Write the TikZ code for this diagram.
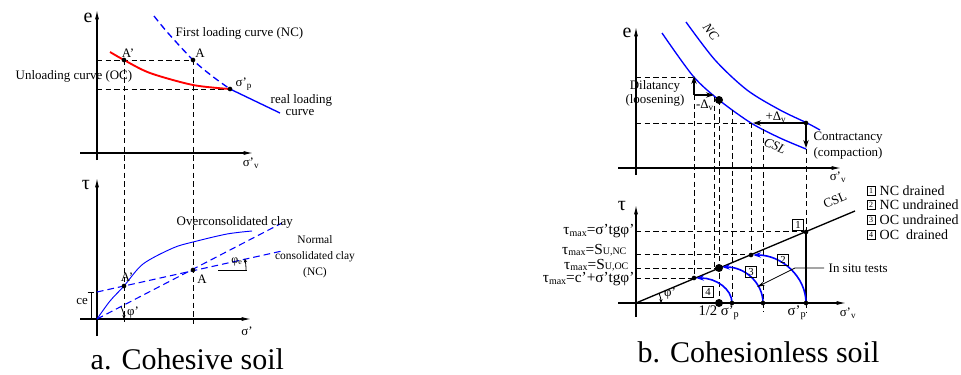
\documentclass[tikz,border=0pt]{standalone}
\usepackage{fontspec}
\setmainfont{Liberation Serif}
\usetikzlibrary{arrows.meta}
\newcommand{\lbl}{\fontsize{9.7}{11.5}\selectfont}
\newcommand{\lblsm}{\fontsize{8.6}{10.8}\selectfont}
\newcommand{\lgd}{\fontsize{10.5}{12}\selectfont}
\newcommand{\axl}{\fontsize{15}{16}\selectfont}
\newcommand{\tml}{\fontsize{11.5}{13}\selectfont}
\newcommand{\capl}{\fontsize{22.5}{24}\selectfont}
\newcommand{\tmax}{τ\raisebox{-1.2pt}{\fontsize{7.5}{8}\selectfont max}}
\newcommand{\lowtxt}[1]{{\fontsize{7.5}{8}\selectfont #1}}

\begin{document}
\begin{tikzpicture}[x=0.75pt,y=-0.75pt,
  axis/.style={line width=0.8pt,-{Latex[length=7pt,width=3pt]}},
  guide/.style={line width=0.6pt,dash pattern=on 4pt off 2.5pt},
  bluedash/.style={blue,line width=0.8pt,dash pattern=on 5pt off 3pt},
  mk/.style={circle,fill=black,inner sep=0pt,minimum size=3.5pt},
  bigdot/.style={circle,fill=black,inner sep=0pt,minimum size=6pt},
  push/.style={line width=1.2pt,-{Stealth[length=6pt,width=4pt]}},
  arcarrow/.style={blue,line width=1.2pt,-{Stealth[length=6pt,width=4pt]}},
  numbox/.style={draw,line width=0.5pt,inner sep=0.8pt,minimum width=8pt,minimum height=8pt,font=\fontsize{8}{8}\selectfont},
  keybox/.style={draw,line width=0.5pt,inner sep=0.5pt,minimum width=6pt,minimum height=6.5pt,font=\fontsize{6}{6}\selectfont}]
\useasboundingbox (0,0) rectangle (961,375);

% a. cohesive soil, e - sigma'v
\draw[axis] (97,160) -- (97,10);
\draw[axis] (80,153) -- (253,153);
\node (e1) at (88,18) {\axl e};
\node (sv1) at (251,163) {\lbl σ'\textsubscript{v}};
\coordinate (A1) at (124,60);
\coordinate (A2) at (193,60);
\coordinate (P1) at (230,89);
\draw[guide] (97,60) -- (A2);
\draw[guide] (97,89) -- (P1);
\draw[guide] (A1) -- (124,322);
\draw[guide] (A2) -- (193,324);
\draw[red,line width=1.4pt] plot[smooth] coordinates {(110,52) (124,60) (150,73) (193,85) (230,89)};
\draw[bluedash,line width=1pt] plot[smooth] coordinates {(154,16) (168,33) (193,60) (212,76) (230,89)};
\draw[blue,line width=1pt] plot[smooth] coordinates {(230,89) (255,101) (280,113)};
\node[mk] (mA1) at (A1) {};
\node[mk] (mA2) at (A2) {};
\node[mk] (mP1) at (P1) {};
\node[anchor=west] (first) at (171,33) {\lbl First loading curve (NC)};
\node (lA1) at (128,53) {\lbl A'};
\node (lA2) at (200,53) {\lbl A};
\node[anchor=west] (unl) at (11,76) {\lbl Unloading curve (OC)};
\node[anchor=west] (lP1) at (231,84) {\lbl σ'\textsubscript{p}};
\node[anchor=west] (real) at (266,100) {\lbl real loading};
\node (crv) at (300,113) {\lbl curve};

% a. cohesive soil, tau - sigma'
\draw[axis] (97,336) -- (97,178);
\draw[axis] (80,319) -- (251,319);
\node (t1) at (86,185) {\axl τ};
\node (s1) at (247,331) {\lbl σ'};
\coordinate (O1) at (97,319);
\coordinate (B1) at (124,286);
\coordinate (B2) at (193,270);
\draw[blue,line width=0.7pt] plot[smooth] coordinates {(97,319) (110,301) (124,286) (143,264) (173,248) (193,242) (227,234) (252,231)};
\draw[bluedash] (O1) -- (282,223);
\draw[bluedash] (97,292) -- (282,251);
\node[mk] (mB1) at (B1) {};
\node[mk] (mB2) at (B2) {};
\node (lB1) at (127,277) {\lbl A'};
\node (lB2) at (202,279) {\lbl A};
\node[anchor=west] (ocl) at (172,222) {\lbl Overconsolidated clay};
\node[align=center] (ncl) at (315,257) {\lblsm Normal\\\lblsm consolidated clay\\\lblsm (NC)};
\draw[line width=0.5pt] (218,270) -- (247,270);
\draw[line width=0.6pt,-{Stealth[length=3pt,width=2.5pt]}] (B2) ++(53,0) arc[start angle=0,end angle=-12.5,radius=53];
\node (phe) at (237,262) {\fontsize{9}{10}\selectfont φ\textsubscript{e}};
\draw[line width=0.6pt,{Stealth[length=3pt,width=2.5pt]}-] (O1) ++(27,0) arc[start angle=0,end angle=-27.4,radius=27];
\node (phi1) at (133,313) {\lbl φ'};
\draw[|-|,line width=0.5pt] (91,292) -- (91,319);
\node (ce) at (82,302) {\lbl ce};
\node[anchor=base west] (capa) at (86,369) {\capl a. Cohesive soil};

% b. cohesionless soil, e - sigma'v
\draw[axis] (636,175) -- (636,27);
\draw[axis] (618,168) -- (841,168);
\node (e2) at (627,33) {\axl e};
\node (sv2) at (838,177) {\lbl σ'\textsubscript{v}};
\draw[blue,line width=1pt] plot[smooth] coordinates {(686,22) (715,60) (747,90) (780,110) (807,123) (820,130)};
\draw[blue,line width=1pt] plot[smooth] coordinates {(662,33) (693,76) (719,100) (751,123) (780,138) (806,149)};
\node[rotate=-53,inner sep=1pt] (ncc) at (711,32) {\lbl\itshape NC};
\node[rotate=-23] (csl1) at (775,146) {\lbl\itshape CSL};
\draw[guide] (636,77) -- (694,77);
\draw[guide] (636,123) -- (751,123);
\draw[guide] (694,95) -- (694,278);
\draw[guide] (714,97) -- (714,268);
\draw[guide] (719,100) -- (719,303);
\draw[guide] (732,110) -- (732,303);
\draw[guide] (751,123) -- (751,255);
\draw[guide] (763,129) -- (763,312);
\draw[guide] (806,149) -- (806,232);
\draw[guide] (806,303) -- (806,312);
\draw[push] (694,95) -- (694,76);
\draw[push] (694,95) -- (714,95);
\draw[push] (806,123) -- (753,123);
\draw[push] (806,123) -- (806,148);
\node[bigdot] (d1) at (719,100) {};
\node[mk] (d2) at (806,123) {};
\node (dil) at (655,86) {\lbl Dilatancy};
\node (loo) at (655,100) {\lbl (loosening)};
\node (dvm) at (705,105) {\lbl -Δ\textsubscript{v}};
\node (dvp) at (776,117) {\lbl +Δ\textsubscript{v}};
\node (con) at (848,138) {\lbl Contractancy};
\node (cmp) at (848,153) {\lbl (compaction)};

% b. cohesionless soil, tau - sigma'v
\draw[axis] (636,317) -- (636,205);
\draw[axis] (618,303) -- (846,303);
\node (t2) at (622,206) {\axl τ};
\node (sv3) at (848,313) {\lbl σ'\textsubscript{v}};
\coordinate (O2) at (636,303);
\draw[line width=1pt] (O2) -- (855,211);
\node[rotate=23,inner sep=1pt] (csl2) at (835,200) {\lbl CSL};
\draw[guide] (636,231) -- (806,231);
\draw[guide] (636,254) -- (751,254);
\draw[guide] (636,268) -- (719,268);
\draw[guide] (636,278) -- (694,278);
\draw[line width=1.2pt] (806,232) -- (806,303);
\node[anchor=east,inner sep=1pt] (tm1) at (636,231) {\tml\tmax=σ'tgφ'};
\node[anchor=east,inner sep=1pt] (tm2) at (628,250) {\tml\tmax=S\lowtxt{U,NC}};
\node[anchor=east,inner sep=1pt] (tm3) at (630,265) {\tml\tmax=S\lowtxt{U,OC}};
\node[anchor=east,inner sep=1pt] (tm4) at (636,279) {\tml\tmax=c'+σ'tgφ'};
\draw[arcarrow] (732,303) .. controls (732,289) and (716,278) .. (696,278);
\draw[arcarrow] (763,303) .. controls (763,283) and (745,267) .. (722,267);
\draw[arcarrow] (806,303) .. controls (806,277) and (782,255) .. (753,255);
\node[mk] (c1) at (694,278) {};
\node[bigdot] (c2) at (719,268) {};
\node[mk] (c3) at (751,255) {};
\node[mk] (c4) at (806,232) {};
\node[mk] (c5) at (732,303) {};
\node[mk] (c6) at (763,303) {};
\node[mk] (c7) at (806,303) {};
\node[bigdot] (c8) at (719,303) {};
\draw[line width=0.6pt,{Stealth[length=3pt,width=2.5pt]}-] (O2) ++(25,0) arc[start angle=0,end angle=-22.8,radius=25];
\node (phi2) at (670,294) {\lbl φ'};
\node[numbox] (n1) at (798,225) {1};
\node[numbox] (n2) at (783,260) {2};
\node[numbox] (n3) at (751,272) {3};
\node[numbox] (n4) at (708,292) {4};
\node[anchor=west] (ist) at (824,268) {\lbl In situ tests};
\draw[line width=0.6pt,-{Stealth[length=6pt,width=3pt]}] (ist.west) -- (795,268) -- (757,287);
\node (half) at (719,313) {\fontsize{11}{12}\selectfont 1/2 σ'\textsubscript{p}};
\node (sp2) at (797,313) {\fontsize{11}{12}\selectfont σ'\textsubscript{p}};

% legend
\node[keybox] (k1) at (871,191) {1};
\node[keybox] (k2) at (871,205) {2};
\node[keybox] (k3) at (871,220) {3};
\node[keybox] (k4) at (871,235) {4};
\node[anchor=west] (g1) at (875,191) {\lgd NC drained};
\node[anchor=west] (g2) at (875,205) {\lgd NC undrained};
\node[anchor=west] (g3) at (875,220) {\lgd OC undrained};
\node[anchor=west] (g4) at (875,235) {\lgd OC\ \ drained};
\node[anchor=base west] (capb) at (633,362) {\capl b. Cohesionless soil};
\end{tikzpicture}
\end{document}
